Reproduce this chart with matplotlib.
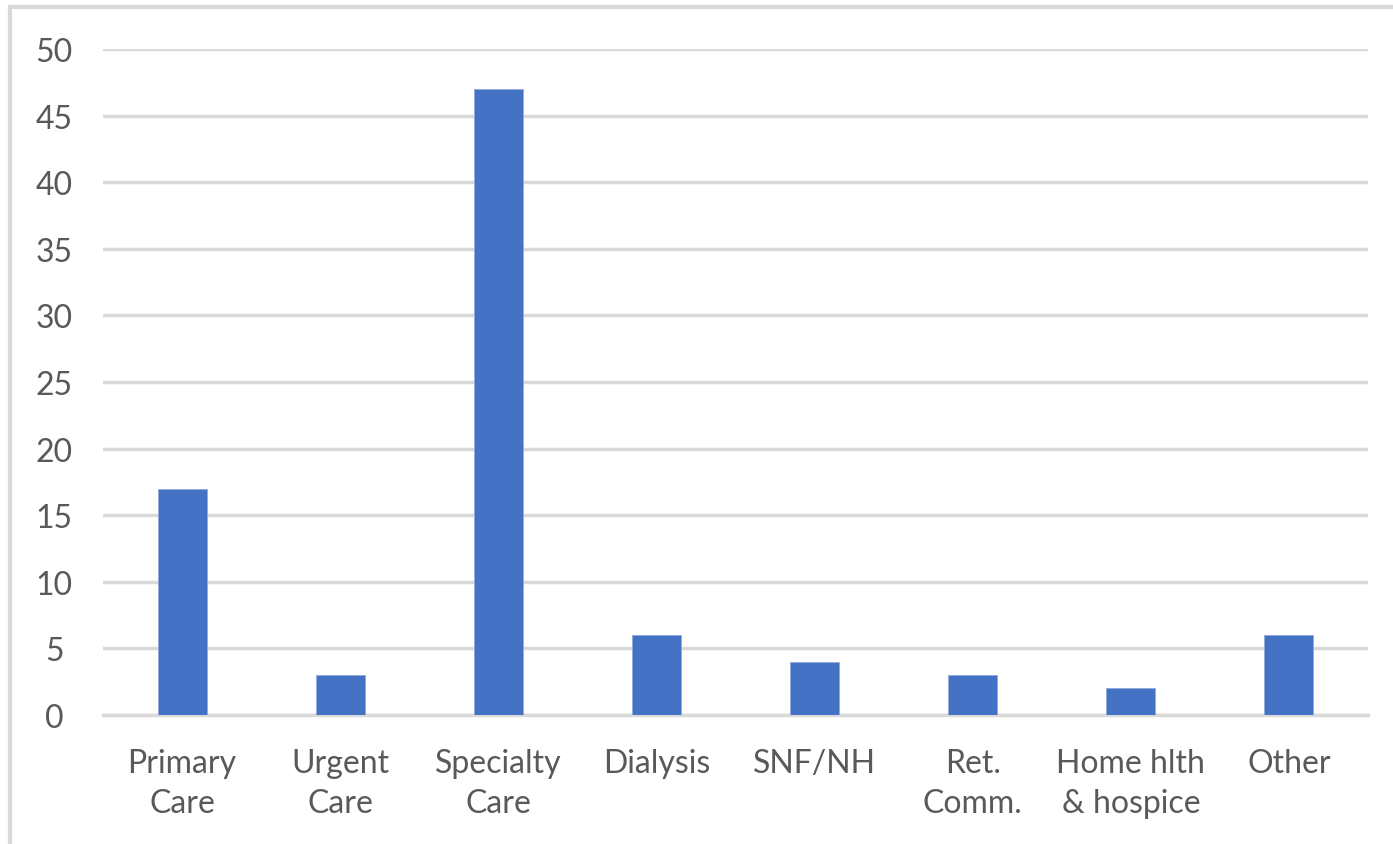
import matplotlib.pyplot as plt
from matplotlib.lines import Line2D
import numpy as np

# chart data
categories = ["Primary\nCare", "Urgent\nCare", "Specialty\nCare", "Dialysis",
              "SNF/NH", "Ret.\nComm.", "Home hlth\n& hospice", "Other"]
counts = [17, 3, 47, 6, 4, 3, 2, 6]
y_ticks = [0, 5, 10, 15, 20, 25, 30, 35, 40, 45, 50]

plt.rcParams["font.family"] = ["Lato", "DejaVu Sans"]
text_color = "#595959"
grid_color = "#D9D9D9"
bar_color = "#4472C4"

fig = plt.figure(figsize=(13.93, 8.45), dpi=100)
ax = fig.add_axes([103 / 1393, 1 - 716 / 845, (1368 - 103) / 1393, (716 - 50) / 845])

x = np.arange(len(categories))
ax.bar(x, counts, width=0.31, color=bar_color, edgecolor="#8FAADC", linewidth=0.6, zorder=3)

ax.set_xlim(-0.5, len(categories) - 0.5)
ax.set_ylim(0, 50)
ax.set_yticks(y_ticks)
ax.set_xticks(x)
ax.set_xticklabels(categories, linespacing=1.42)

ax.yaxis.grid(True, color=grid_color, linewidth=2.5, zorder=0)
ax.set_axisbelow(True)
for side in ["top", "right", "left"]:
    ax.spines[side].set_visible(False)
ax.spines["bottom"].set_color(grid_color)
ax.spines["bottom"].set_linewidth(2.5)

ax.tick_params(axis="both", length=0, labelsize=23, colors=text_color)
ax.tick_params(axis="y", pad=35)
ax.tick_params(axis="x", pad=24)
for lbl in ax.get_yticklabels():
    lbl.set_horizontalalignment("center")

# light frame on the top and left edges
fig.add_artist(Line2D([10 / 1393, 10 / 1393], [0, 1 - 8 / 845],
                      transform=fig.transFigure, color=grid_color, linewidth=3))
fig.add_artist(Line2D([10 / 1393, 1], [1 - 8 / 845, 1 - 8 / 845],
                      transform=fig.transFigure, color=grid_color, linewidth=3))

fig.savefig("out.png", dpi=100)
